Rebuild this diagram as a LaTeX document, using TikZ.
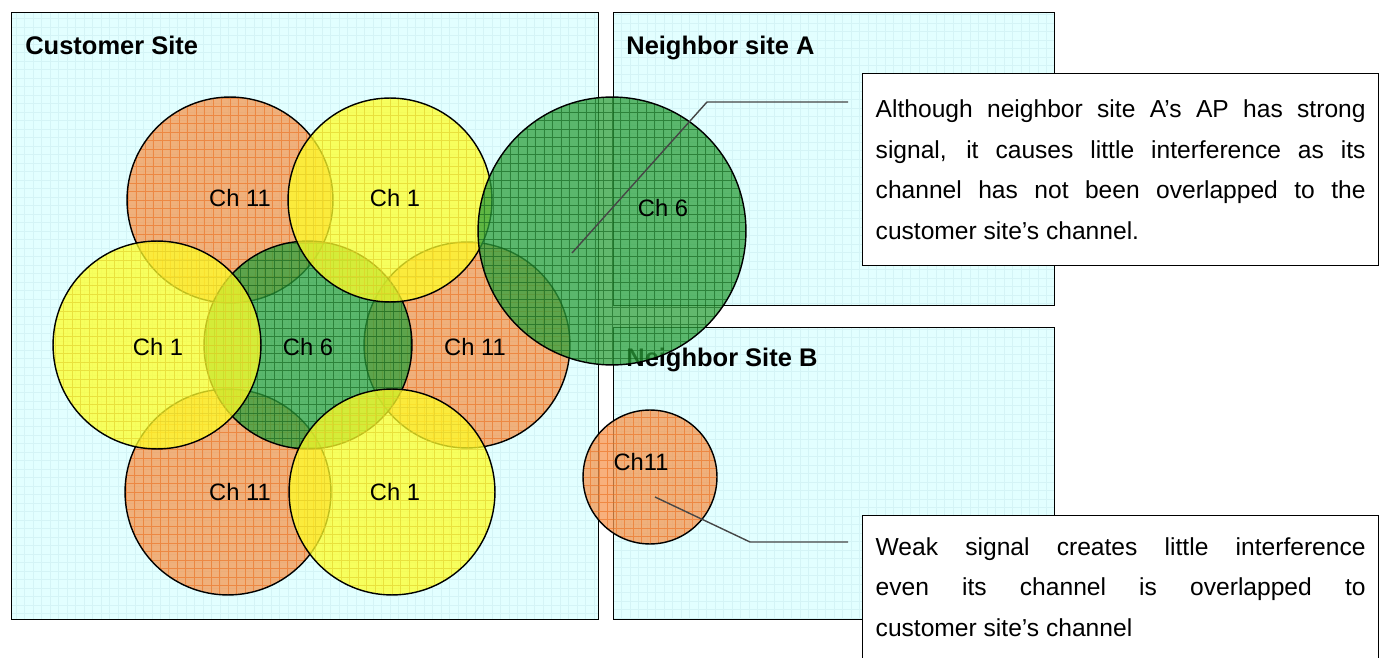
\documentclass[tikz,border=0pt]{standalone}
\usepackage{fontspec}
\setmainfont{Liberation Sans}

\definecolor{sitebg}{RGB}{226,255,255}
\definecolor{sitegrid}{RGB}{212,244,246}
\definecolor{ch11fill}{RGB}{245,150,80}
\definecolor{ch11grid}{RGB}{235,110,30}
\definecolor{ch1fill}{RGB}{255,255,40}
\definecolor{ch1grid}{RGB}{225,205,40}
\definecolor{ch6fill}{RGB}{45,160,60}
\definecolor{ch6grid}{RGB}{15,95,25}

\tikzset{
  site/.style={draw=black, line width=0.8pt, fill=sitebg, anchor=north west, inner sep=0pt,
    path picture={\draw[sitegrid, line width=0.3pt, step=0.17cm]
      (path picture bounding box.south west) grid (path picture bounding box.north east);}},
  sitename/.style={anchor=base west, inner sep=0pt, font=\bfseries\fontsize{14.5}{17}\selectfont},
  ap/.style 2 args={circle, draw=black, line width=0.8pt, inner sep=0pt,
    minimum size=#2*0.04cm, fill=ch#1fill, fill opacity=0.75,
    path picture={\draw[ch#1grid, draw opacity=0.6, line width=0.5pt, step=0.17cm]
      (path picture bounding box.south west) grid (path picture bounding box.north east);}},
  chname/.style={inner sep=0pt, font=\fontsize{13.5}{16}\selectfont},
  note/.style={draw=black, line width=0.8pt, fill=white, anchor=north west,
    text width=9.8cm, align=justify, inner xsep=0.26cm,
    font=\fontsize{14}{23}\selectfont},
  callline/.style={draw=gray!55!black, line width=0.8pt}
}

\begin{document}
\begin{tikzpicture}[x=0.02cm, y=-0.02cm]
  \useasboundingbox (0,0) rectangle (1383,658);
  \clip (0,0) rectangle (1383,658);

  % 1. sites
  \node[site, minimum width=11.74cm, minimum height=12.14cm] (cust) at (11,12) {};
  \node[site, minimum width=8.82cm, minimum height=5.86cm] (nbA) at (613,12) {};
  \node[site, minimum width=8.82cm, minimum height=5.84cm] (nbB) at (613,327) {};
  \node[sitename] (custname) at (25,55) {Customer Site};
  \node[sitename] (nbAname) at (626,55) {Neighbor site A};
  \node[sitename] (nbBname) at (626,367) {Neighbor Site B};

  % 2. customer APs
  \foreach \name/\ch/\cx/\cy/\r in {c11a/11/230/200/103, c11b/11/467/345/103, c11c/11/228/492/103,
      c6/6/308/345/104, c1a/1/390/200/102, c1b/1/157/345/104, c1c/1/392/492/103}
    \node[ap={\ch}{\r}] (\name) at (\cx,\cy) {};

  % 3. neighbor APs
  \node[ap={6}{134}] (nA6) at (612,231) {};
  \node[ap={11}{67}] (nB11) at (650,477) {};

  % channel labels
  \node[chname] (l11a) at (240,198) {Ch 11};
  \node[chname] (l1a) at (395,198) {Ch 1};
  \node[chname] (l1b) at (158,347) {Ch 1};
  \node[chname] (l6) at (308,347) {Ch 6};
  \node[chname] (l11b) at (475,347) {Ch 11};
  \node[chname] (l11c) at (240,492) {Ch 11};
  \node[chname] (l1c) at (395,492) {Ch 1};
  \node[chname] (lnA6) at (663,208) {Ch 6};
  \node[chname] (lnB11) at (641,462) {Ch11};

  % 4. callouts
  \node[note, minimum width=10.32cm, minimum height=3.84cm] (noteA) at (862,73)
    {Although neighbor site A's AP has strong\linebreak
     signal, it causes little interference as its\linebreak
     channel has not been overlapped to the\linebreak
     customer site's channel.};
  \node[note, inner ysep=0.44cm] (noteB) at (862,515)
    {Weak signal creates little interference\linebreak
     even its channel is overlapped to\linebreak
     customer site's channel\par\vspace*{1cm}};

  \coordinate (tipA) at (572,253);
  \coordinate (kneeA) at (707,102);
  \coordinate (endA) at (848,102);
  \coordinate (tipB) at (655,497);
  \coordinate (kneeB) at (750,542);
  \coordinate (endB) at (848,542);
  \draw[callline] (tipA) -- (kneeA) -- (endA);
  \draw[callline] (tipB) -- (kneeB) -- (endB);
\end{tikzpicture}
\end{document}
